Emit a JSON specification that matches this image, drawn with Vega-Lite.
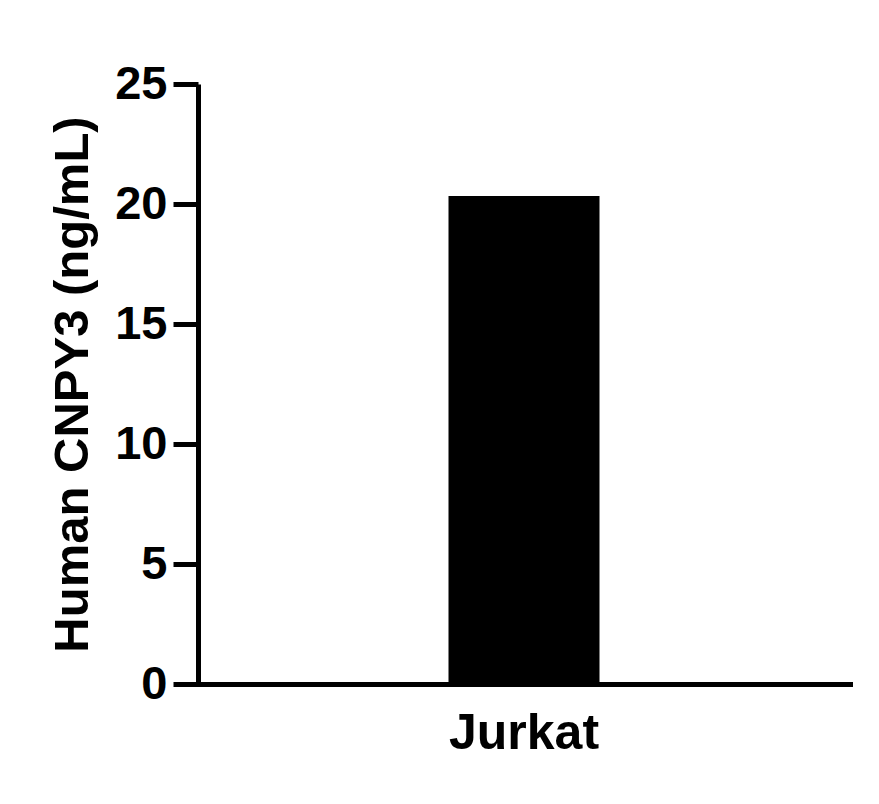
{
  "$schema": "https://vega.github.io/schema/vega-lite/v6.json",
  "width": 652,
  "height": 600,
  "autosize": {"type": "none"},
  "padding": {"left": 198, "top": 84, "right": 29, "bottom": 120},
  "background": "white",
  "config": {
    "view": {"stroke": null},
    "font": "Liberation Sans"
  },
  "data": {
    "values": [
      {"cell_line": "Jurkat", "value": 20.33}
    ]
  },
  "mark": {"type": "bar", "color": "black", "width": 151},
  "encoding": {
    "x": {
      "field": "cell_line",
      "type": "nominal",
      "title": null,
      "axis": {
        "labelAngle": 0,
        "labelFont": "Liberation Sans",
        "labelFontSize": 50,
        "labelFontWeight": "bold",
        "labelColor": "black",
        "labelPadding": 24,
        "ticks": false,
        "domainColor": "black",
        "domainWidth": 5,
        "domainCap": "square"
      }
    },
    "y": {
      "field": "value",
      "type": "quantitative",
      "title": "Human CNPY3 (ng/mL)",
      "scale": {"domain": [0, 25]},
      "axis": {
        "values": [0, 5, 10, 15, 20, 25],
        "grid": false,
        "tickSize": 25,
        "tickWidth": 5,
        "tickColor": "black",
        "domainColor": "black",
        "domainWidth": 5,
        "labelFont": "Liberation Sans",
        "labelFontSize": 47,
        "labelFontWeight": "bold",
        "labelColor": "black",
        "labelPadding": 6,
        "titleFont": "Liberation Sans",
        "titleFontSize": 49,
        "titleFontWeight": "bold",
        "titleColor": "black",
        "titlePadding": 17
      }
    }
  }
}
